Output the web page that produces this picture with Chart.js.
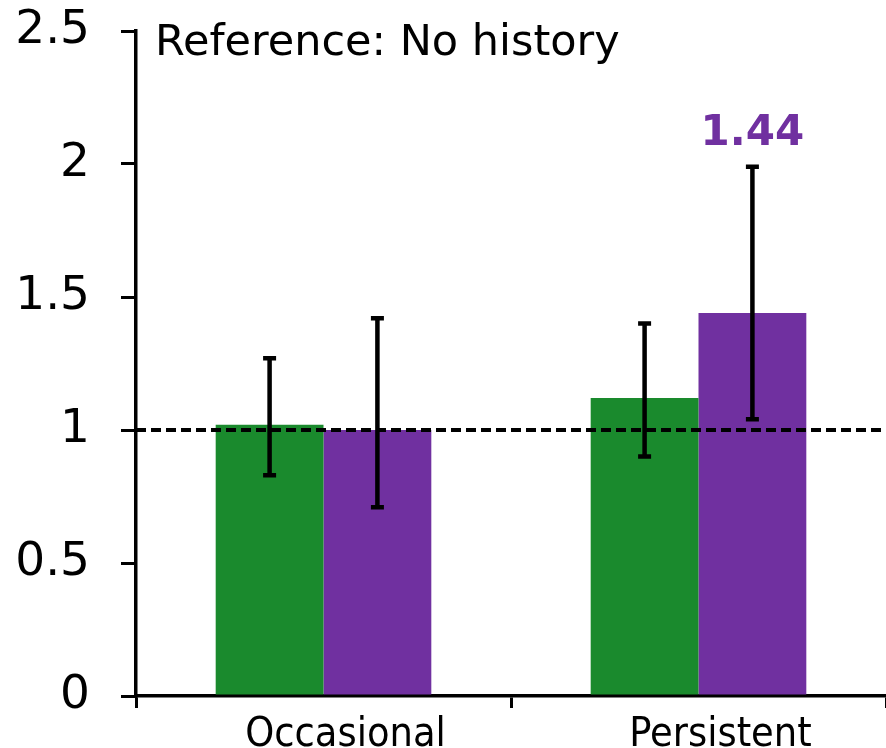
<!DOCTYPE html>
<html>
<head>
<meta charset="utf-8">
<script src="https://cdn.jsdelivr.net/npm/chart.js@4/dist/chart.umd.min.js"></script>
<style>
  html, body { margin: 0; padding: 0; background: #fff; }
  #wrap { width: 886px; height: 748px; }
</style>
</head>
<body>
<div id="wrap"><canvas id="c" width="886" height="748"></canvas></div>
<script>
// ---- data ----
const categories = ['Occasional', 'Persistent'];
const greenValues = [1.02, 1.12];
const greenLow = [0.83, 0.90];
const greenHigh = [1.27, 1.40];
const purpleValues = [1.00, 1.44];
const purpleLow = [0.71, 1.04];
const purpleHigh = [1.42, 1.99];
const yTicks = [0, 0.5, 1, 1.5, 2, 2.5];
const titleText = 'Reference: No history';
const refLine = 1;

const GREEN = '#1a8a2d';
const PURPLE = '#7030a0';
const FONT = '"DejaVu Sans", Verdana, sans-serif';
const FONT_COND = '"DejaVu Sans Condensed", "DejaVu Sans", sans-serif';

// error bars, dashed reference line, title and value label
const extras = {
    id: 'extras',
    afterDatasetsDraw(chart) {
        const ctx = chart.ctx;
        const y = chart.scales.y;
        const area = chart.chartArea;
        const errs = [[greenLow, greenHigh], [purpleLow, purpleHigh]];

        // dashed line at 1
        ctx.save();
        ctx.strokeStyle = '#000';
        ctx.lineWidth = 4;
        ctx.setLineDash([10, 5]);
        ctx.beginPath();
        ctx.moveTo(area.left, y.getPixelForValue(refLine));
        ctx.lineTo(area.right, y.getPixelForValue(refLine));
        ctx.stroke();
        ctx.restore();

        ctx.save();
        ctx.strokeStyle = '#000';
        ctx.lineWidth = 4.5;
        errs.forEach(([lo, hi], di) => {
            chart.getDatasetMeta(di).data.forEach((bar, i) => {
                const x = bar.x;
                const yl = y.getPixelForValue(lo[i]);
                const yh = y.getPixelForValue(hi[i]);
                ctx.beginPath();
                ctx.moveTo(x, yl); ctx.lineTo(x, yh);
                ctx.moveTo(x - 6.5, yl); ctx.lineTo(x + 6.5, yl);
                ctx.moveTo(x - 6.5, yh); ctx.lineTo(x + 6.5, yh);
                ctx.stroke();
            });
        });
        ctx.restore();

        // title inside the plot
        ctx.save();
        ctx.fillStyle = '#000';
        ctx.font = '43px ' + FONT;
        ctx.textBaseline = 'alphabetic';
        ctx.textAlign = 'left';
        ctx.fillText(titleText, area.left + 19, 55);

        // value label above persistent purple bar
        const pBar = chart.getDatasetMeta(1).data[1];
        ctx.fillStyle = PURPLE;
        ctx.font = 'bold 42px ' + FONT;
        ctx.textAlign = 'center';
        ctx.fillText(purpleValues[1].toFixed(2), pBar.x, 145);
        ctx.restore();
    }
};

new Chart(document.getElementById('c'), {
    type: 'bar',
    data: {
        labels: categories,
        datasets: [
            { data: greenValues, backgroundColor: GREEN, borderWidth: 0 },
            { data: purpleValues, backgroundColor: PURPLE, borderWidth: 0 }
        ]
    },
    options: {
        responsive: false,
        animation: false,
        devicePixelRatio: 1,
        datasets: { bar: { categoryPercentage: 0.575, barPercentage: 1 } },
        layout: { padding: { top: 31, right: 0, left: 0, bottom: 0 } },
        plugins: { legend: { display: false }, tooltip: { enabled: false } },
        scales: {
            x: {
                grid: { offset: true, drawOnChartArea: false, drawTicks: true, tickLength: 12, color: '#000', lineWidth: 3 },
                border: { display: true, color: '#000', width: 3.5 },
                ticks: { color: '#000', font: { family: FONT_COND, size: 41 }, padding: 3, labelOffset: 22 },
                afterFit(s) { s.height = 52; s.paddingLeft = 0; s.paddingRight = 0; }
            },
            y: {
                min: 0, max: 2.5,
                afterBuildTicks(s) { s.ticks = yTicks.map(v => ({ value: v })); },
                grid: { drawOnChartArea: false, drawTicks: true, tickLength: 15, color: '#000', lineWidth: 3 },
                border: { display: true, color: '#000', width: 3.5 },
                ticks: { color: '#000', font: { family: FONT, size: 47 }, padding: 31, callback: v => String(v) },
                afterFit(s) { s.width = 136; s.paddingTop = 0; s.paddingBottom = 0; }
            }
        }
    },
    plugins: [extras]
});
</script>
</body>
</html>
